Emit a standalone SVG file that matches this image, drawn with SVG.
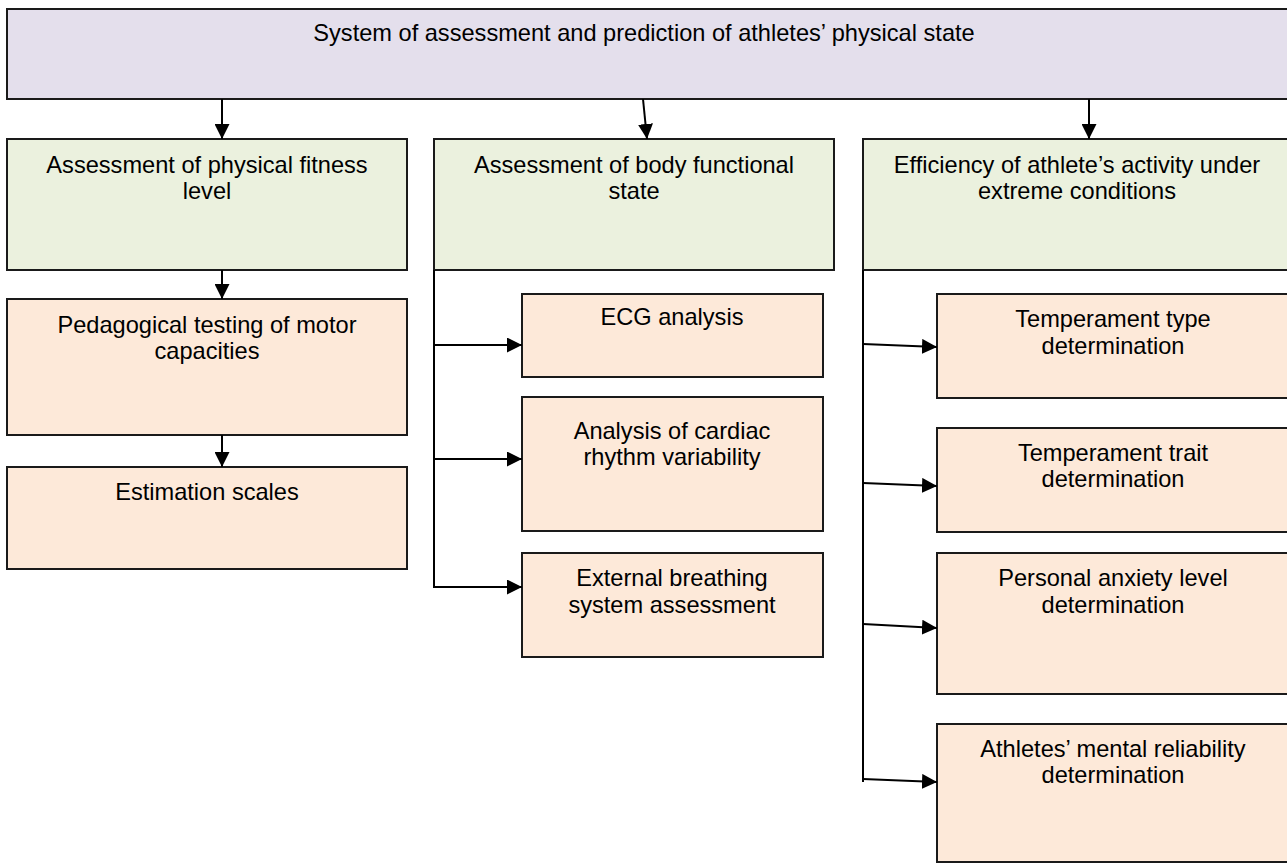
<svg xmlns="http://www.w3.org/2000/svg" width="1287" height="864" viewBox="0 0 1287 864">
<style>
.box{stroke:#1a1a1a;stroke-width:2}
.top{fill:#E4DFEC}
.green{fill:#EBF1DE}
.peach{fill:#FDE9D9}
text{font-family:"Liberation Sans",Arial,sans-serif;font-size:23.6px;fill:#000;text-anchor:middle}
.conn{stroke:#000;stroke-width:2;fill:none}
</style>
<defs>
<marker id="ah" markerUnits="userSpaceOnUse" markerWidth="15" markerHeight="15" refX="15" refY="7.5" orient="auto" viewBox="0 0 15 15">
<path d="M0,0 L15,7.5 L0,15 z" fill="#000"/>
</marker>
</defs>
<rect width="1287" height="864" fill="#fff"/>
<g id="n-top"><rect class="box top" x="7" y="9" width="1285" height="90"/><text x="644" y="41">System of assessment and prediction of athletes’ physical state</text></g>
<g id="n-fitness"><rect class="box green" x="7" y="139" width="400" height="131"/><text x="207" y="173">Assessment of physical fitness</text><text x="207" y="199">level</text></g>
<g id="n-body"><rect class="box green" x="434" y="139" width="400" height="131"/><text x="634" y="173">Assessment of body functional</text><text x="634" y="199">state</text></g>
<g id="n-extreme"><rect class="box green" x="863" y="139" width="430" height="131"/><text x="1077" y="173">Efficiency of athlete’s activity under</text><text x="1077" y="199">extreme conditions</text></g>
<g id="n-ped"><rect class="box peach" x="7" y="299" width="400" height="136"/><text x="207" y="333">Pedagogical testing of motor</text><text x="207" y="359">capacities</text></g>
<g id="n-est"><rect class="box peach" x="7" y="467" width="400" height="102"/><text x="207" y="500">Estimation scales</text></g>
<g id="n-ecg"><rect class="box peach" x="522" y="294" width="301" height="83"/><text x="672" y="325">ECG analysis</text></g>
<g id="n-cardiac"><rect class="box peach" x="522" y="397" width="301" height="134"/><text x="672" y="439">Analysis of cardiac</text><text x="672" y="465">rhythm variability</text></g>
<g id="n-breath"><rect class="box peach" x="522" y="553" width="301" height="104"/><text x="672" y="586">External breathing</text><text x="672" y="613">system assessment</text></g>
<g id="n-type"><rect class="box peach" x="937" y="294" width="356" height="104"/><text x="1113" y="327">Temperament type</text><text x="1113" y="354">determination</text></g>
<g id="n-trait"><rect class="box peach" x="937" y="428" width="356" height="104"/><text x="1113" y="461">Temperament trait</text><text x="1113" y="487">determination</text></g>
<g id="n-anxiety"><rect class="box peach" x="937" y="553" width="356" height="141"/><text x="1113" y="586">Personal anxiety level</text><text x="1113" y="613">determination</text></g>
<g id="n-mental"><rect class="box peach" x="937" y="724" width="356" height="138"/><text x="1113" y="757">Athletes’ mental reliability</text><text x="1113" y="783">determination</text></g>
<g id="connectors">
<line class="conn" x1="222" y1="99" x2="222" y2="139" marker-end="url(#ah)"/>
<line class="conn" x1="643" y1="99" x2="647" y2="139" marker-end="url(#ah)"/>
<line class="conn" x1="1089" y1="99" x2="1089" y2="139" marker-end="url(#ah)"/>
<line class="conn" x1="222" y1="270" x2="222" y2="299" marker-end="url(#ah)"/>
<line class="conn" x1="222" y1="435" x2="222" y2="467" marker-end="url(#ah)"/>
<polyline class="conn" points="434,270 434,587 522,587" marker-end="url(#ah)"/>
<line class="conn" x1="434" y1="345" x2="522" y2="345" marker-end="url(#ah)"/>
<line class="conn" x1="434" y1="459" x2="522" y2="459" marker-end="url(#ah)"/>
<line class="conn" x1="863" y1="270" x2="863" y2="782"/>
<line class="conn" x1="863" y1="344" x2="937" y2="347" marker-end="url(#ah)"/>
<line class="conn" x1="863" y1="483" x2="937" y2="486" marker-end="url(#ah)"/>
<line class="conn" x1="863" y1="624" x2="937" y2="628" marker-end="url(#ah)"/>
<line class="conn" x1="863" y1="779" x2="937" y2="782" marker-end="url(#ah)"/>
</g>
</svg>
